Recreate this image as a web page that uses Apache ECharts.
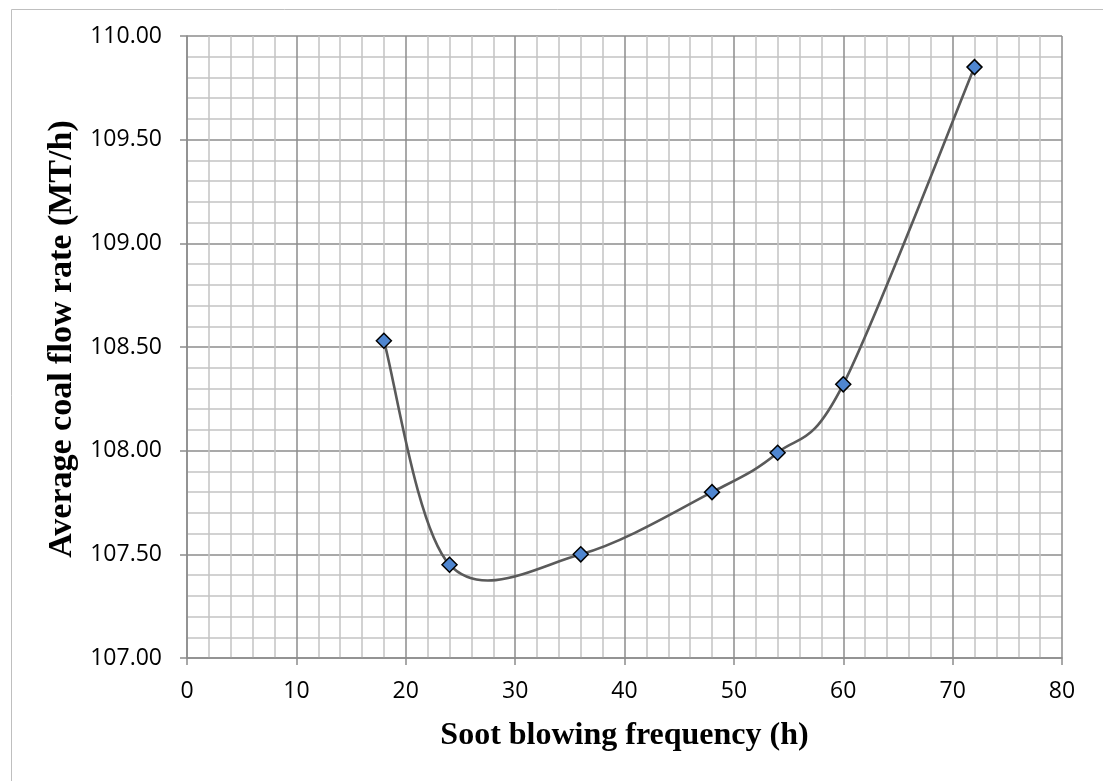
<!DOCTYPE html>
<html>
<head>
<meta charset="utf-8">
<title>Soot blowing frequency vs coal flow</title>
<script src="https://cdn.jsdelivr.net/npm/echarts@6/dist/echarts.min.js"></script>
<style>
  html, body { margin: 0; padding: 0; background: #fff; }
  #chart { width: 1103px; height: 781px; }
</style>
</head>
<body>
<div id="chart"></div>
<script>
// soot blowing frequency (h)
var frequency = [18, 24, 36, 48, 54, 60, 72];
// average coal flow rate (MT/h)
var coalFlow = [108.53, 107.45, 107.50, 107.80, 107.99, 108.32, 109.85];

var xTitle = 'Soot blowing frequency (h)';
var yTitle = 'Average coal flow rate (MT/h)';

var points = [];
for (var i = 0; i < frequency.length; i++) {
  points.push([frequency[i], coalFlow[i]]);
}

var majorGrid = '#8c8c8c';
var minorGrid = '#c4c4c4';
var labelFont = '"Open Sans", sans-serif';
var titleFont = '"Liberation Serif", "Times New Roman", serif';

// spreadsheet-style smoothed line: one bezier per segment, control points
// taken from the neighbouring points (catmull-rom, 1/6)
function renderCurve(params, api) {
  var n = frequency.length;
  var i = params.dataIndex;
  if (i >= n - 1) return null;
  var pt = function (k) {
    k = Math.max(0, Math.min(n - 1, k));
    return api.coord([frequency[k], coalFlow[k]]);
  };
  var p0 = pt(i - 1), p1 = pt(i), p2 = pt(i + 1), p3 = pt(i + 2);
  return {
    type: 'bezierCurve',
    shape: {
      x1: p1[0], y1: p1[1],
      x2: p2[0], y2: p2[1],
      cpx1: p1[0] + (p2[0] - p0[0]) / 6,
      cpy1: p1[1] + (p2[1] - p0[1]) / 6,
      cpx2: p2[0] - (p3[0] - p1[0]) / 6,
      cpy2: p2[1] - (p3[1] - p1[1]) / 6
    },
    style: { fill: 'none', stroke: '#5a5a5a', lineWidth: 2.6, lineCap: 'round' }
  };
}

var myChart = echarts.init(document.getElementById('chart'));

var option = {
  animation: false,
  backgroundColor: '#ffffff',
  graphic: [{
    type: 'rect',
    left: 9,
    top: 7,
    shape: { width: 1200, height: 900 },
    style: { fill: 'none', stroke: '#bfbfbf', lineWidth: 1 },
    silent: true,
    z: -10
  }],
  grid: {
    left: 187,
    right: 41,
    top: 36,
    bottom: 123
  },
  xAxis: {
    type: 'value',
    min: 0,
    max: 80,
    interval: 10,
    name: xTitle,
    nameLocation: 'middle',
    nameGap: 62,
    nameTextStyle: {
      fontFamily: titleFont,
      fontWeight: 'bold',
      fontSize: 32,
      color: '#000'
    },
    axisLine: { show: true, lineStyle: { color: majorGrid, width: 1.5 } },
    axisTick: { show: true, inside: false, length: 7, lineStyle: { color: majorGrid, width: 1.5 } },
    axisLabel: { margin: 22, fontFamily: labelFont, fontSize: 23, color: '#000' },
    splitLine: { show: true, lineStyle: { color: majorGrid, width: 1.5 } },
    minorTick: { show: false, splitNumber: 5 },
    minorSplitLine: { show: true, lineStyle: { color: minorGrid, width: 1.5 } }
  },
  yAxis: {
    type: 'value',
    min: 107,
    max: 110,
    interval: 0.5,
    name: yTitle,
    nameLocation: 'middle',
    nameRotate: 90,
    nameGap: 106,
    nameTextStyle: {
      fontFamily: titleFont,
      fontWeight: 'bold',
      fontSize: 34,
      color: '#000',
      padding: [0, 0, 0, 16]
    },
    axisLine: { show: true, lineStyle: { color: majorGrid, width: 1.5 } },
    axisTick: { show: true, inside: false, length: 7, lineStyle: { color: majorGrid, width: 1.5 } },
    axisLabel: {
      margin: 25,
      fontFamily: labelFont,
      fontSize: 23,
      color: '#000',
      formatter: function (v) { return v.toFixed(2); }
    },
    splitLine: { show: true, lineStyle: { color: majorGrid, width: 1.5 } },
    minorTick: { show: false, splitNumber: 5 },
    minorSplitLine: { show: true, lineStyle: { color: minorGrid, width: 1.5 } }
  },
  series: [{
    type: 'custom',
    renderItem: renderCurve,
    data: points,
    encode: { x: 0, y: 1 },
    z: 4
  }, {
    type: 'scatter',
    data: points,
    symbol: 'diamond',
    symbolSize: [15, 15],
    itemStyle: { color: '#4f86d0', borderColor: '#000', borderWidth: 1.5, opacity: 1 },
    z: 5
  }]
};

myChart.setOption(option);
</script>
</body>
</html>
